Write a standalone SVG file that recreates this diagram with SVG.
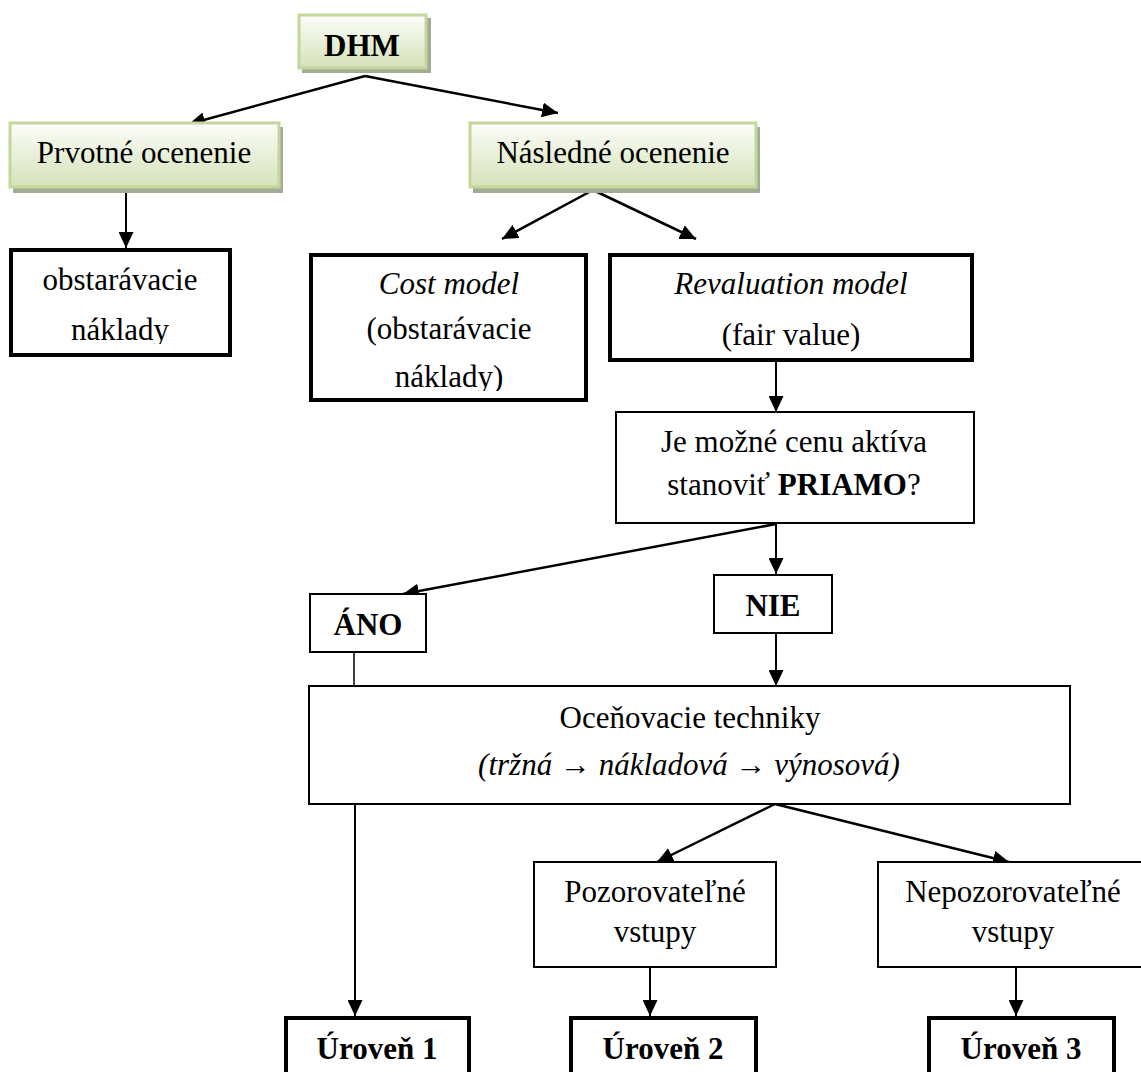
<svg xmlns="http://www.w3.org/2000/svg" width="1141" height="1072" viewBox="0 0 1141 1072">
<defs>
<linearGradient id="g" x1="0" y1="0" x2="0" y2="1">
<stop offset="0" stop-color="#fcfdf9"/>
<stop offset="1" stop-color="#d5e2b9"/>
</linearGradient>
<marker id="a" viewBox="0 0 16 15" refX="16" refY="7.5" markerWidth="16" markerHeight="15" markerUnits="userSpaceOnUse" orient="auto">
<path d="M0,0 L16,7.5 L0,15 z" fill="#000"/>
</marker>
<clipPath id="clip1"><rect x="9" y="248" width="222" height="96"/></clipPath>
<clipPath id="clip2"><rect x="309" y="253" width="279" height="138"/></clipPath>
</defs>
<style>
text{font-family:"Liberation Serif","Times New Roman",serif;font-size:31px;fill:#000;text-anchor:middle}
.b{font-weight:bold}
.i{font-style:italic}
.shadow{fill:#a3aa95}
.green{fill:url(#g);stroke:#c3d69b;stroke-width:3}
.thick{fill:#fff;stroke:#000;stroke-width:4}
.thin{fill:#fff;stroke:#000;stroke-width:2}
.c{fill:none;stroke:#000;stroke-width:2.5}
.v{fill:none;stroke:#000;stroke-width:2}
.c1{fill:none;stroke:#000;stroke-width:1.5}
</style>
<rect width="1141" height="1072" fill="#fff"/>
<g id="connectors">
<path class="c" d="M365,76 L189,124" marker-end="url(#a)"/>
<path class="c" d="M365,76 L558,113" marker-end="url(#a)"/>
<path class="v" d="M126,190 L126,248" marker-end="url(#a)"/>
<path class="c" d="M593,190 L502,239" marker-end="url(#a)"/>
<path class="c" d="M593,190 L696,239" marker-end="url(#a)"/>
<path class="v" d="M776,362 L776,412" marker-end="url(#a)"/>
<path class="v" d="M776,524 L776,574" marker-end="url(#a)"/>
<path class="c" d="M776,524 L403,594" marker-end="url(#a)"/>
<path class="c1" d="M354,652 L354,686"/>
<path class="v" d="M776,633 L776,686" marker-end="url(#a)"/>
<path class="v" d="M355,804 L355,1016" marker-end="url(#a)"/>
<path class="c" d="M775,804 L657,862" marker-end="url(#a)"/>
<path class="c" d="M775,804 L1009,862" marker-end="url(#a)"/>
<path class="v" d="M650,968 L650,1016" marker-end="url(#a)"/>
<path class="v" d="M1016,965 L1016,1016" marker-end="url(#a)"/>
</g>
<g id="dhm">
<rect class="shadow" x="302" y="18" width="129" height="55"/>
<rect class="green" x="299" y="15" width="127" height="53"/>
<text class="b" x="362" y="56">DHM</text>
</g>
<g id="prvotne">
<rect class="shadow" x="13" y="127" width="270" height="66"/>
<rect class="green" x="10" y="123" width="269" height="64"/>
<text x="144" y="163">Prvotné ocenenie</text>
</g>
<g id="nasledne">
<rect class="shadow" x="473" y="127" width="287" height="66"/>
<rect class="green" x="470" y="123" width="286" height="64"/>
<text x="613" y="163">Následné ocenenie</text>
</g>
<g id="obstaravacie">
<rect class="thick" x="11" y="250" width="219" height="105"/>
<text x="120" y="290">obstarávacie</text>
<text x="120" y="340" clip-path="url(#clip1)">náklady</text>
</g>
<g id="cost">
<rect class="thick" x="311" y="255" width="275" height="145"/>
<text class="i" x="449" y="294">Cost model</text>
<text x="449" y="339">(obstarávacie</text>
<text x="449" y="387" clip-path="url(#clip2)">náklady)</text>
</g>
<g id="revaluation">
<rect class="thick" x="610" y="255" width="362" height="105"/>
<text class="i" x="791" y="294">Revaluation model</text>
<text x="791" y="345">(fair value)</text>
</g>
<g id="question">
<rect class="thin" x="616" y="412" width="358" height="111"/>
<text x="794" y="452">Je možné cenu aktíva</text>
<text x="794" y="495">stanoviť <tspan class="b">PRIAMO</tspan>?</text>
</g>
<g id="ano">
<rect class="thin" x="310" y="594" width="116" height="58"/>
<text class="b" x="368" y="635">ÁNO</text>
</g>
<g id="nie">
<rect class="thin" x="714" y="575" width="118" height="58"/>
<text class="b" x="773" y="616">NIE</text>
</g>
<g id="ocenovacie">
<rect class="thin" x="309" y="686" width="761" height="118"/>
<text x="690" y="728">Oceňovacie techniky</text>
<text class="i" x="689" y="775">(tržná → nákladová → výnosová)</text>
</g>
<g id="pozorovatelne">
<rect class="thin" x="534" y="862" width="242" height="105"/>
<text x="655" y="902">Pozorovateľné</text>
<text x="655" y="942">vstupy</text>
</g>
<g id="nepozorovatelne">
<rect class="thin" x="878" y="862" width="270" height="105"/>
<text x="1013" y="902">Nepozorovateľné</text>
<text x="1013" y="942">vstupy</text>
</g>
<g id="uroven1">
<rect class="thick" x="286" y="1018" width="183" height="70"/>
<text class="b" x="377" y="1059">Úroveň 1</text>
</g>
<g id="uroven2">
<rect class="thick" x="571" y="1018" width="185" height="70"/>
<text class="b" x="663" y="1059">Úroveň 2</text>
</g>
<g id="uroven3">
<rect class="thick" x="929" y="1018" width="185" height="70"/>
<text class="b" x="1021" y="1059">Úroveň 3</text>
</g>
</svg>
